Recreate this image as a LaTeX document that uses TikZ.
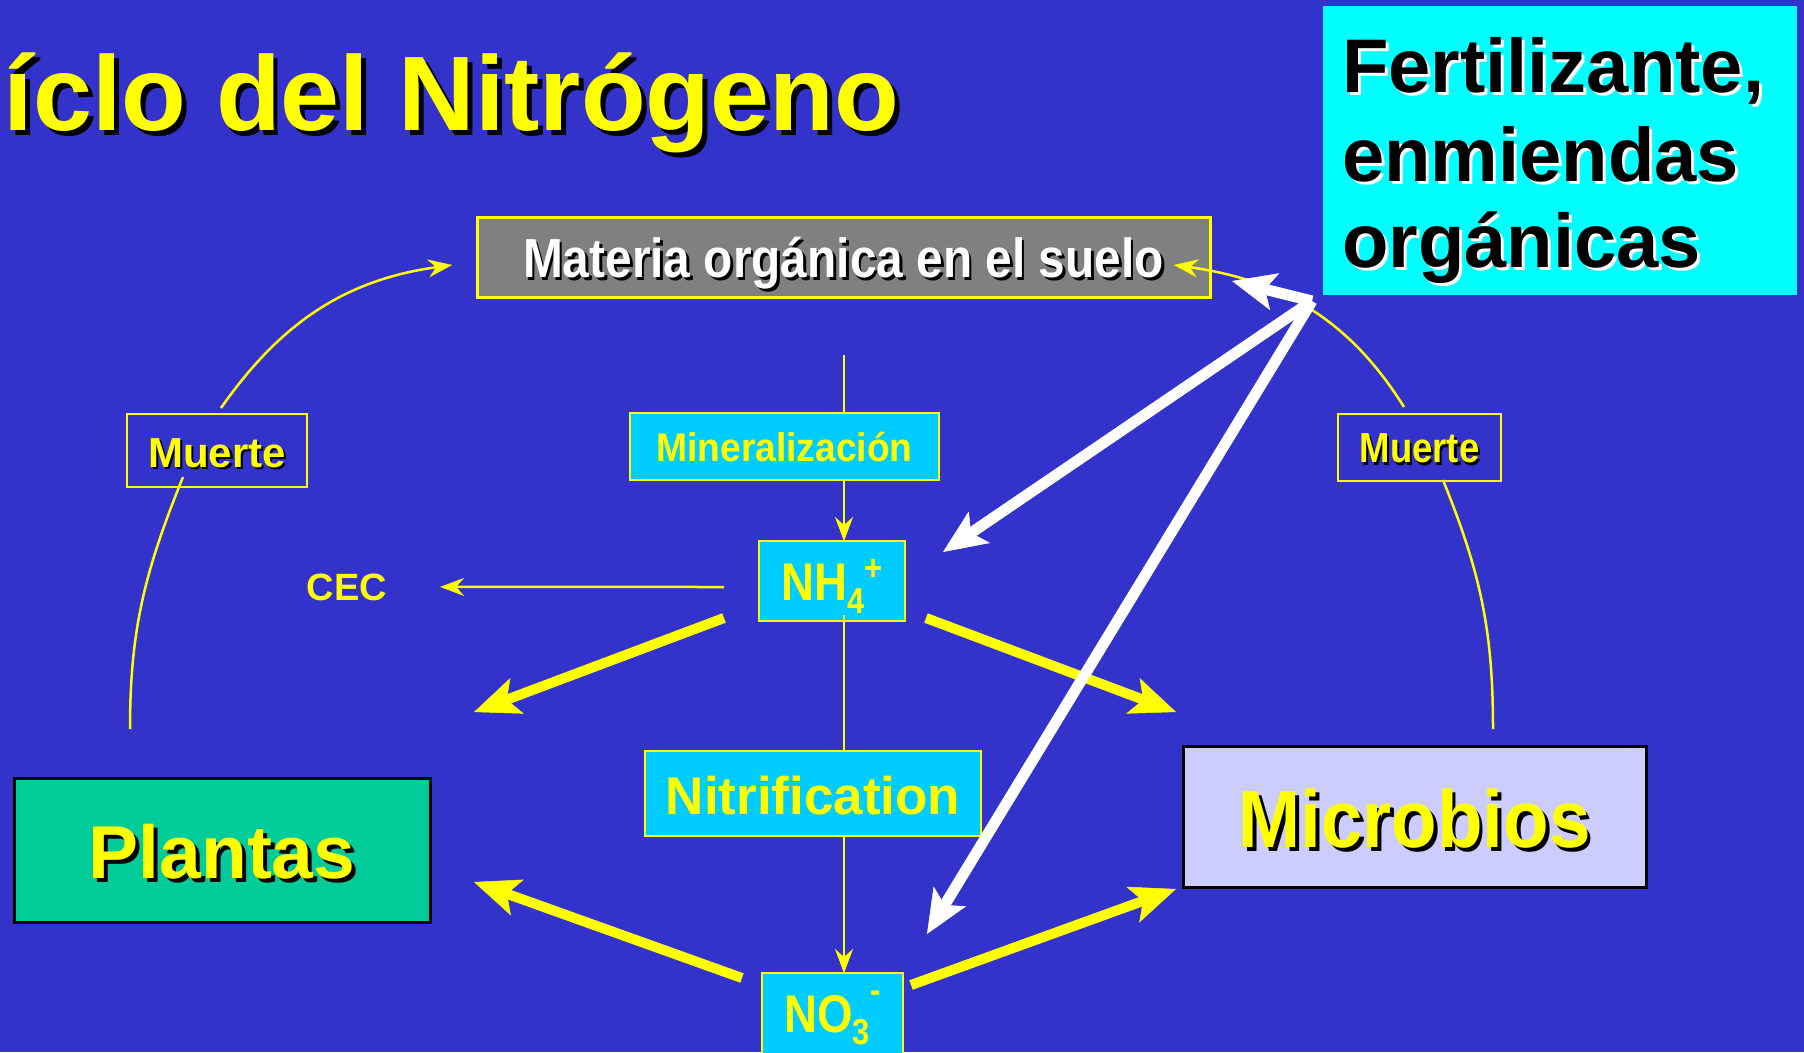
\documentclass[tikz,border=0pt]{standalone}
\usepackage{fontspec}
\setmainfont{Liberation Sans}
\usepackage{graphicx}
\usetikzlibrary{arrows.meta,calc}
\definecolor{bgblue}{RGB}{51,51,204}
\definecolor{ylw}{RGB}{255,255,0}
\definecolor{ioncyan}{RGB}{0,204,255}
\definecolor{fertcyan}{RGB}{0,255,255}
\definecolor{graybox}{RGB}{128,128,128}
\definecolor{plantgreen}{RGB}{0,204,153}
\definecolor{microlav}{RGB}{204,204,255}
\newcommand{\shadowed}[4]{\makebox[0pt][l]{\kern#1\raisebox{-#1}{\textcolor{#2}{#4}}}\textcolor{#3}{#4}}
\newcommand{\narrowed}[2]{\scalebox{#1}[1]{#2}}
\newcommand{\fsz}[1]{\fontsize{#1pt}{#1pt}\selectfont}
\begin{document}
\begin{tikzpicture}[x=1pt,y=1pt,
  every node/.style={inner sep=0pt, outer sep=0pt, font=\bfseries},
  ionbox/.style={fill=ioncyan, draw=ylw, line width=2.5pt, text=ylw},
  thinarrow/.style={draw=ylw, line width=2.5pt, -{Stealth[length=24pt,width=18pt,inset=8pt,line width=0.5pt]}},
  thinline/.style={draw=ylw, line width=2.5pt},
  fatyellow/.style={draw=ylw, line width=10pt, -{Stealth[length=46pt,width=38pt,inset=11pt,line width=0.5pt]}},
  fatwhite/.style={draw=white, line width=11pt, -{Stealth[length=44pt,width=38pt,inset=10pt,line width=0.5pt]}}]
\clip (0,0) rectangle (1804,-1052);
\useasboundingbox (0,0) rectangle (1804,-1052);
\fill[bgblue] (0,0) rectangle (1804,-1052);

% title
\node[anchor=base west] (title) at (4,-130) {\fsz{106}\shadowed{5pt}{black}{ylw}{íclo del Nitrógeno}};

% fertilizer box
\node[fill=fertcyan, minimum width=474pt, minimum height=289pt] (fert) at (1560,-150.5) {};
\node[anchor=base west] (fert1) at (1342,-92) {\fsz{76}\shadowed{3pt}{white}{black}{Fertilizante,}};
\node[anchor=base west] (fert2) at (1342,-181) {\fsz{76}\shadowed{3pt}{white}{black}{enmiendas}};
\node[anchor=base west] (fert3) at (1342,-267) {\fsz{76}\shadowed{3pt}{white}{black}{orgánicas}};

% soil organic matter
\node[fill=graybox, draw=ylw, line width=3pt, minimum width=733pt, minimum height=80pt, text height=40pt, text depth=0pt] (mo) at (843.5,-257) {\fsz{55}\narrowed{0.87}{\shadowed{3pt}{black}{white}{Materia orgánica en el suelo}}};

% ions
\node[ionbox, minimum width=146pt, minimum height=80pt, text height=38pt, text depth=0pt] (nh4) at (832,-581) {\fsz{53}\narrowed{0.86}{NH\raisebox{-13pt}{\fsz{36}4}\raisebox{20pt}{\fsz{36}+}}};
\node[ionbox, minimum width=141pt, minimum height=90pt, text height=28pt, text depth=0pt] (no3) at (832.5,-1018) {\fsz{53}\narrowed{0.86}{NO\raisebox{-12pt}{\fsz{36}3}\raisebox{30pt}{\fsz{36}-}}};

% vertical process lines
\coordinate (moOut) at (844,-355);
\draw[thinarrow] (moOut) -- (moOut |- nh4.north);
\coordinate (nhOut) at (844,-615);
\draw[thinarrow] (nhOut) -- (nhOut |- no3.north);

% process labels
\node[ionbox, minimum width=309pt, minimum height=67pt, text height=29pt, text depth=0pt] (min) at (784.5,-446.5) {\fsz{40}\narrowed{0.93}{Mineralización}};
\node[ionbox, minimum width=336pt, minimum height=85pt, text height=42pt, text depth=0pt] (nit) at (813,-793.5) {\fsz{53}Nitrification};

% death boxes
\node[draw=ylw, line width=2pt, minimum width=180pt, minimum height=73pt, text height=33pt, text depth=0pt] (muL) at (217,-450.5) {\fsz{42}\shadowed{2.5pt}{black}{ylw}{Muerte}};
\node[draw=ylw, line width=2pt, minimum width=163pt, minimum height=67pt, text height=30pt, text depth=0pt] (muR) at (1419.5,-447.5) {\fsz{42}\narrowed{0.87}{\shadowed{2.5pt}{black}{ylw}{Muerte}}};

% plants and microbes
\node[fill=plantgreen, draw=black, line width=3pt, minimum width=416pt, minimum height=144pt, text height=56pt, text depth=0pt] (pl) at (222,-850) {\fsz{75}\shadowed{4pt}{black}{ylw}{Plantas}};
\node[fill=microlav, draw=black, line width=3pt, minimum width=463pt, minimum height=141pt, text height=61pt, text depth=0pt] (mic) at (1414.5,-816.5) {\fsz{81}\narrowed{0.92}{\shadowed{4pt}{black}{ylw}{Microbios}}};

% CEC
\node[anchor=base, text=ylw] (cec) at (347,-600) {\fsz{38}CEC};
\coordinate (cecIn) at (724,-587);
\draw[thinarrow] (cecIn) -- ($(cec.east)+(53,0)$);

% death cycle curves
\coordinate (l1s) at (221,-408); \coordinate (l1e) at (452,-265);
\draw[thinarrow] (l1s) to[out=55,in=188] (l1e);
\coordinate (l2s) at (130,-729); \coordinate (l2e) at (183,-477);
\draw[thinline] (l2s) to[out=90,in=248] (l2e);
\coordinate (r2s) at (1493,-729); \coordinate (r2e) at (1443,-480);
\draw[thinline] (r2s) to[out=90,in=292] (r2e);
\coordinate (r1s) at (1404,-407); \coordinate (r1e) at (1174,-265);
\draw[thinarrow] (r1s) to[out=122,in=-8] (r1e);

% uptake arrows
\coordinate (y1s) at (724,-618); \coordinate (y1e) at (474,-712);
\coordinate (y2s) at (926,-618); \coordinate (y2e) at (1176,-712);
\coordinate (y3s) at (742,-978); \coordinate (y3e) at (474,-882);
\coordinate (y4s) at (911,-985); \coordinate (y4e) at (1176,-889);
\draw[fatyellow] (y1s) -- (y1e);
\draw[fatyellow] (y2s) -- (y2e);
\draw[fatyellow] (y3s) -- (y3e);
\draw[fatyellow] (y4s) -- (y4e);

% fertilizer arrows
\coordinate (wO) at (1312,-301);
\coordinate (w1e) at (943,-552);
\coordinate (w2e) at (927,-934);
\coordinate (w3e) at (1232,-281);
\draw[fatwhite] (wO) -- (w1e);
\draw[fatwhite] (wO) -- (w2e);
\draw[fatwhite] (wO) -- (w3e);
\end{tikzpicture}
\end{document}
